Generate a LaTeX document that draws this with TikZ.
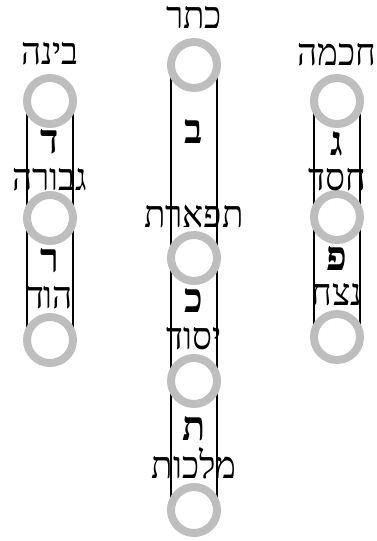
\documentclass[tikz,border=0pt]{standalone}
\usepackage{fontspec}
\usetikzlibrary{backgrounds}
\TeXXeTstate=1
\newfontfamily\hebfont[Script=Hebrew]{Liberation Serif}
\newcommand\heb[1]{\scalebox{1}[1.08]{\beginR #1\endR}}
\definecolor{ring}{HTML}{BEBEBE}
\tikzset{
  sef/.style={circle,draw=ring,line width=8pt,fill=white,minimum size=46pt,inner sep=0pt},
  nm/.style={font=\hebfont\fontsize{35}{35}\selectfont,anchor=base,inner sep=0pt,
    text height=19pt,text depth=0pt},
  ltr/.style={nm,font=\hebfont\bfseries\fontsize{38}{38}\selectfont,text height=21pt},
  chan/.style={draw=black,line width=1.4pt},
}
\begin{document}
\begin{tikzpicture}[x=1pt,y=-1pt]
  \useasboundingbox (0,0) rectangle (377,541);
  % sefirot
  \foreach \n/\x/\y in {bina/50/101,gevura/50/218,hod/50/340,
      keter/194/65,tiferet/194/258,yesod/194/381,malchut/194/510,
      chochma/337/101,chesed/337/217,netzach/337/337}
    \node[sef] (\n) at (\x,\y) {};
  % paths behind the circles
  \begin{scope}[on background layer]
    \foreach \a/\b in {bina/hod,keter/malchut,chochma/netzach}
      \draw[chan] ([xshift=-23pt]\a.center) -- ([xshift=-23pt]\b.center)
                  ([xshift=23pt]\a.center) -- ([xshift=23pt]\b.center);
  \end{scope}
  % names
  \foreach \n/\x/\y/\t in {tbina/50/64/בינה,tgevura/50/190/גבורה,thod/50/308/הוד,
      tketer/194/28/כתר,ttiferet/194/227/תפארת,tyesod/194/349/יסוד,tmalchut/194/478/מלכות,
      tchochma/337/65/חכמה,tchesed/337/190/חסד,tnetzach/337/305/נצח}
    \node[nm] (\n) at (\x,\y) {\heb{\t}};
  % double letters
  \foreach \n/\x/\y/\t in {dalet/50/153/ד,resh/50/272/ר,bet/194/143/ב,kaf/194/312/כ,
      tav/194/440/ת,gimel/337/155/ג,pe/337/270/פ}
    \node[ltr] (\n) at (\x,\y) {\heb{\t}};
\end{tikzpicture}
\end{document}
